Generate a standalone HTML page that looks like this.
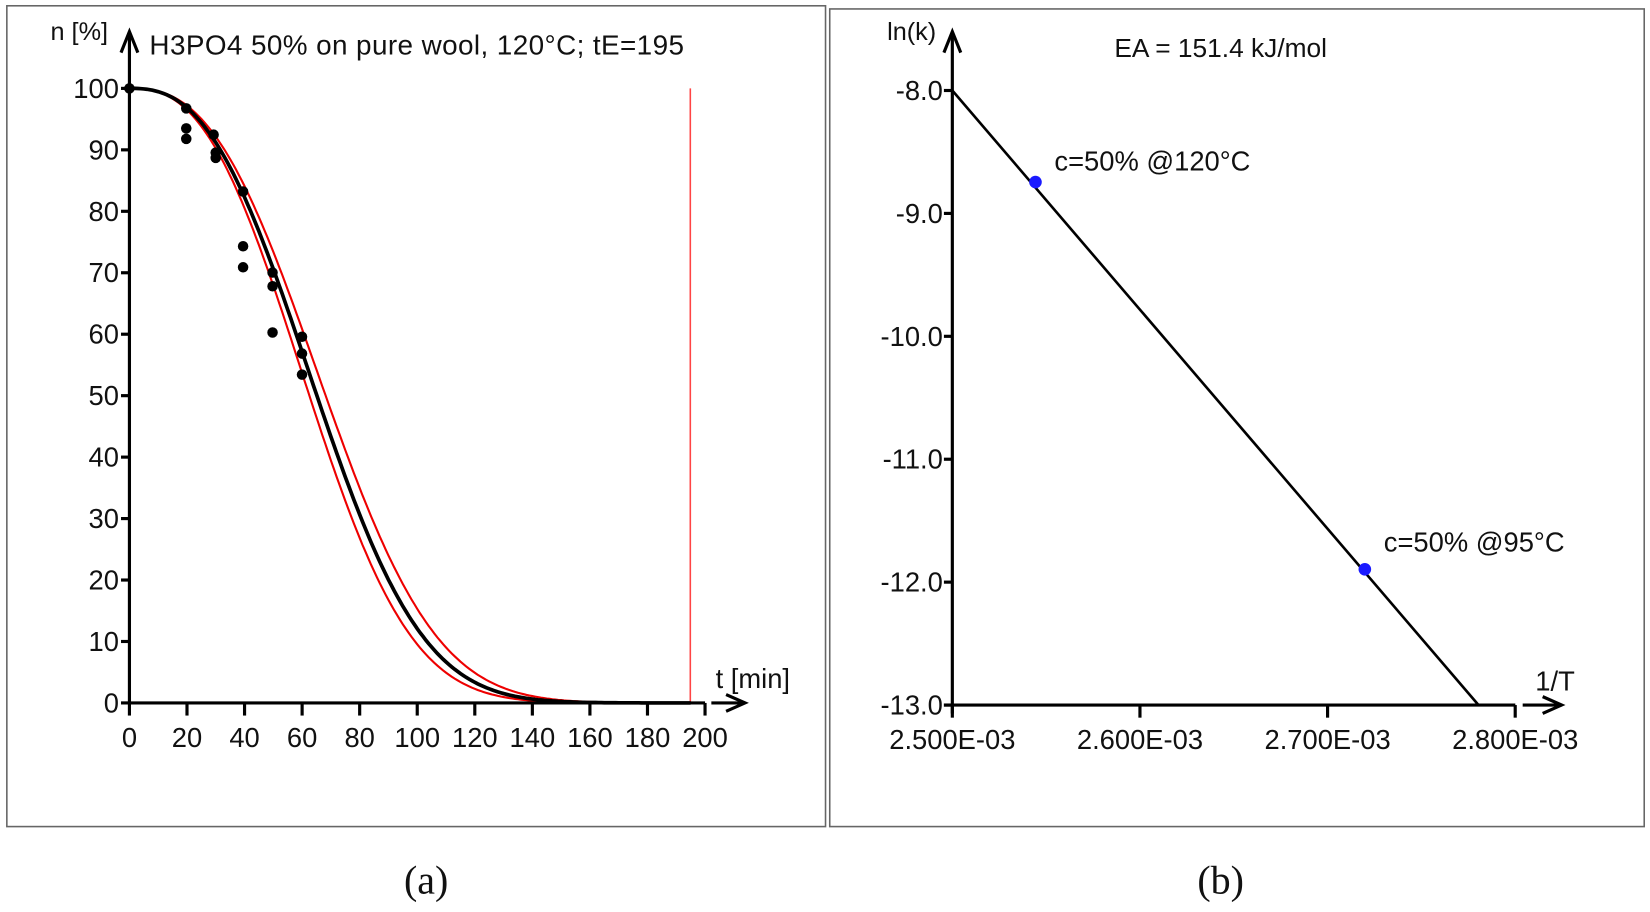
<!DOCTYPE html>
<html><head><meta charset="utf-8"><style>
body{margin:0;background:#fff;width:1650px;height:907px;overflow:hidden}
svg text{font-family:"Liberation Sans",Arial,sans-serif;fill:#111}
</style></head><body>
<svg width="1650" height="907" xmlns="http://www.w3.org/2000/svg">
<g id="root" transform="scale(1.0523)">
<rect x="6.5" y="5.5" width="778" height="780" fill="none" stroke="#666" stroke-width="1.5"/>
<rect x="788.5" y="8.5" width="774" height="777" fill="none" stroke="#666" stroke-width="1.5"/>
<g id="left">
<line x1="656" y1="84" x2="656" y2="668" stroke="#f44" stroke-width="1.5"/>
<polyline id="r1" fill="none" stroke="#e00" stroke-width="2"/>
<polyline id="r2" fill="none" stroke="#e00" stroke-width="2"/>
<polyline id="bk" fill="none" stroke="#000" stroke-width="3.5"/>
<line x1="123" y1="668" x2="123" y2="34" stroke="#000" stroke-width="3"/>
<polyline points="115,50 123,30 131,50" fill="none" stroke="#000" stroke-width="3"/>
<line x1="123" y1="668" x2="670" y2="668" stroke="#000" stroke-width="3"/>
<line x1="676" y1="668" x2="708" y2="668" stroke="#000" stroke-width="3"/>
<polyline points="690,660 708,668 690,676" fill="none" stroke="#000" stroke-width="3"/>
<g id="lt" stroke="#000" stroke-width="3"></g>
<g id="dots" fill="#000"></g>
<text x="48" y="38" font-size="24">n [%]</text>
<text x="142" y="52" font-size="26.5" textLength="508">H3PO4 50% on pure wool, 120°C; tE=195</text>
<text x="680" y="654" font-size="26">t [min]</text>
</g>
<g>
<line x1="905" y1="86" x2="1405" y2="670" stroke="#000" stroke-width="2.5"/>
<line x1="905" y1="678" x2="905" y2="34" stroke="#000" stroke-width="3"/>
<polyline points="897,50 905,30 913,50" fill="none" stroke="#000" stroke-width="3"/>
<line x1="897" y1="670" x2="1440" y2="670" stroke="#000" stroke-width="3"/>
<line x1="1447" y1="670" x2="1484" y2="670" stroke="#000" stroke-width="3"/>
<polyline points="1466,662 1484,670 1466,678" fill="none" stroke="#000" stroke-width="3"/>
<g id="rt" stroke="#000" stroke-width="3"></g>
<circle cx="984" cy="173" r="6" fill="#1a1aff"/>
<circle cx="1297" cy="541" r="6" fill="#1a1aff"/>
<text x="843" y="38" font-size="24">ln(k)</text>
<text x="1160" y="54" font-size="25" text-anchor="middle">EA = 151.4 kJ/mol</text>
<text x="1002" y="162" font-size="26">c=50% @120°C</text>
<text x="1315" y="524" font-size="26">c=50% @95°C</text>
<text x="1459" y="656" font-size="26">1/T</text>
</g>
<text x="405" y="849" font-size="38" text-anchor="middle" style="font-family:'Liberation Serif',serif">(a)</text>
<text x="1160" y="849" font-size="38" text-anchor="middle" style="font-family:'Liberation Serif',serif">(b)</text>
</g>
</svg>
<script>
var NS="http://www.w3.org/2000/svg";
function el(p,t,a){var e=document.createElementNS(NS,t);for(var k in a)e.setAttribute(k,a[k]);p.appendChild(e);return e;}
var X=function(t){return 123+t*2.735},Y=function(n){return 668-n*5.84};
function curve(id,tau){var s="";for(var t=0;t<=195;t+=1){var n=100*Math.exp(-Math.pow(t/tau,2.6));s+=X(t).toFixed(1)+","+Y(n).toFixed(1)+" ";}document.getElementById(id).setAttribute("points",s);}
curve("bk",75);curve("r1",72);curve("r2",78.5);
var lt=document.getElementById("lt"),svg=document.getElementById("root");
for(var i=0;i<=10;i++){var y=Y(i*10);el(lt,"line",{x1:115,y1:y,x2:123,y2:y});var tx=el(svg,"text",{x:113,y:y+9,"font-size":26,"text-anchor":"end"});tx.textContent=i*10;}
for(var i=0;i<=10;i++){var x=X(i*20);el(lt,"line",{x1:x,y1:668,x2:x,y2:680});var tx=el(svg,"text",{x:x,y:710,"font-size":26,"text-anchor":"middle"});tx.textContent=i*20;}
var d=document.getElementById("dots");
[[123,84],[177,103],[177,122],[177,132],[203,128],[205,145],[205,150],[231,182],[231,234],[231,254],[259,259],[259,272],[259,316],[287,320],[287,336],[287,356]].forEach(function(p){el(d,"circle",{cx:p[0],cy:p[1],r:5});});
var rt=document.getElementById("rt");
var labs=["-8.0","-9.0","-10.0","-11.0","-12.0","-13.0"];
for(var i=0;i<6;i++){var y=86+i*116.8;el(rt,"line",{x1:897,y1:y,x2:905,y2:y});var tx=el(svg,"text",{x:896,y:y+9,"font-size":26,"text-anchor":"end"});tx.textContent=labs[i];}
var xl=["2.500E-03","2.600E-03","2.700E-03","2.800E-03"];
for(var i=0;i<4;i++){var x=905+i*178.3;el(rt,"line",{x1:x,y1:670,x2:x,y2:682});var tx=el(svg,"text",{x:x,y:712,"font-size":26,"text-anchor":"middle"});tx.textContent=xl[i];}
</script>
</body></html>
